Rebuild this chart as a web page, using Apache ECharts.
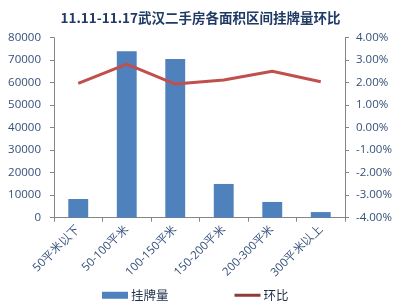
<!DOCTYPE html>
<html><head><meta charset="utf-8">
<script src="https://cdn.jsdelivr.net/npm/echarts@6/dist/echarts.min.js"></script>
<style>html,body{margin:0;padding:0;background:#fff}#c{width:401px;height:307px}</style>
</head><body><div id="c"></div>
<script>
var categories = ['50平米以下','50-100平米','100-150平米','150-200平米','200-300平米','300平米以上'];
var listings = [8300, 74000, 70500, 15000, 7000, 2500];
var mom = [1.97, 2.83, 1.94, 2.12, 2.51, 2.04];
var leftTicks = [0, 80000, 10000];
var rightTicks = [-4, 4, 1];
var txt = '#34507A';
var chart = echarts.init(document.getElementById('c'), null, {renderer:'canvas'});
chart.setOption({
  animation:false,
  title:{text:'11.11-11.17武汉二手房各面积区间挂牌量环比', left:'center', top:6,
    textStyle:{fontSize:13.5, fontWeight:'bold', color:'#1F3A64', fontFamily:'Noto Sans CJK SC'}},
  legend:{top:284, left:97, itemGap:66, itemWidth:26, itemHeight:7,
    textStyle:{fontSize:12.5, color:'#1F2F4A', fontFamily:'Noto Sans CJK SC', padding:[0,0,0,-2]},
    data:[{name:'挂牌量', icon:'rect'},{name:'环比', icon:'path://M0,0L26,0L26,3L0,3Z', itemStyle:{color:'#8E3B3A'}}]},
  grid:{left:54, right:56, top:37.7, bottom:89.3},
  xAxis:{type:'category', data:categories,
    axisLine:{lineStyle:{color:'#868686'}},
    axisTick:{show:true, length:4, lineStyle:{color:'#868686'}},
    axisLabel:{rotate:45, interval:0, fontSize:11.5, color:txt, fontFamily:'Open Sans', margin:9}},
  yAxis:[{type:'value', min:leftTicks[0], max:leftTicks[1], interval:leftTicks[2],
      splitLine:{show:false},
      axisLine:{show:true, lineStyle:{color:'#868686'}},
      axisTick:{show:true, length:4, lineStyle:{color:'#868686'}},
      axisLabel:{fontSize:11.5, color:txt, fontFamily:'Open Sans', margin:13,
        formatter:function(v){return String(v);}}},
    {type:'value', min:rightTicks[0], max:rightTicks[1], interval:rightTicks[2],
      splitLine:{show:false},
      axisLine:{show:true, lineStyle:{color:'#868686'}},
      axisTick:{show:true, length:4, lineStyle:{color:'#868686'}},
      axisLabel:{fontSize:11.5, color:txt, fontFamily:'Open Sans', margin:11,
        formatter:function(v){return v.toFixed(2)+'%';}}}],
  series:[
    {name:'挂牌量', type:'bar', data:listings, barWidth:'41%', itemStyle:{color:'#4F81BD'}},
    {name:'环比', type:'line', yAxisIndex:1, data:mom, symbol:'none',
      lineStyle:{color:'#C0504D', width:3}, itemStyle:{color:'#C0504D'}}
  ]
});
</script></body></html>
